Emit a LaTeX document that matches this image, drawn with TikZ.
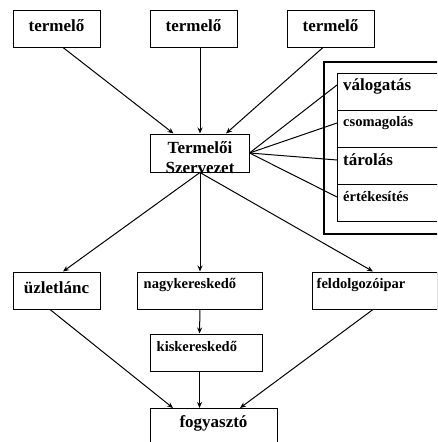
\documentclass[tikz,border=0pt]{standalone}
\usepackage{fontspec}
\setmainfont{Liberation Serif}
\usetikzlibrary{arrows.meta, positioning, calc}
\tikzset{
  box/.style={draw=black, line width=1pt, minimum width=#1,
    minimum height=37pt, inner sep=0pt, text depth=5pt},
  box/.default=87pt,
  big/.style={font=\fontsize{17}{19}\selectfont\bfseries, inner sep=0pt},
  small/.style={font=\fontsize{14.5}{17}\selectfont\bfseries, inner sep=0pt},
  arr/.style={-{Stealth[length=6pt,width=5pt]}, line width=1pt},
  link/.style={line width=1pt},
}

\begin{document}
\begin{tikzpicture}[x=1pt, y=1pt]
    \clip (0,0) rectangle (437,-442);

    % termelok
    \node[box, big] (t1) at (56.5,-28.5) {termelő};
    \node[box, big] (t2) at (193.5,-28.5) {termelő};
    \node[box, big] (t3) at (330.5,-28.5) {termelő};

    % szervezet
    \node[box=99pt, minimum height=38pt] (szerv) at (199.5,-153) {};
    \node[big, align=center, anchor=north] (szervtxt) at (200,-141)
      {Termelői\\[1pt]Szervezet};

    % feladatok
    \draw[line width=2pt] (324,-62) rectangle (450,-234);
    \node[box=120pt, anchor=north west] (r1) at (337,-73) {};
    \node[box=120pt, anchor=north west] (r2) at (337,-110) {};
    \node[box=120pt, anchor=north west] (r3) at (337,-147) {};
    \node[box=120pt, anchor=north west] (r4) at (337,-184) {};
    \node[big, anchor=west] (r1txt) at ($(r1.north west)+(6,-13)$) {válogatás};
    \node[small, anchor=west] (r2txt) at ($(r2.north west)+(6,-13)$) {csomagolás};
    \node[big, anchor=west] (r3txt) at ($(r3.north west)+(6,-13)$) {tárolás};
    \node[small, anchor=west] (r4txt) at ($(r4.north west)+(6,-13)$) {értékesítés};

    % kereskedelem
    \node[box, big] (uzlet) at (56.5,-290.5) {üzletlánc};
    \node[box=125pt] (nagy) at (199.5,-290.5) {};
    \node[small, anchor=west] (nagytxt) at ($(nagy.north west)+(7,-13)$) {nagykereskedő};
    \node[box=125pt] (feld) at (374.5,-290.5) {};
    \node[small, anchor=west] (feldtxt) at ($(feld.north west)+(5,-13)$) {feldolgozóipar};
    \node[box=112pt] (kisk) at (206,-352.5) {};
    \node[small, anchor=west] (kisktxt) at ($(kisk.north west)+(7,-13)$) {kiskereskedő};
    \node[box=127pt, minimum height=50pt, anchor=north] (fogy) at (213.5,-408) {};
    \node[big] (fogytxt) at (213.5,-423) {fogyasztó};

    \draw[arr] ($(t1.south)+(6.5,0)$) -- ($(szerv.north)+(-26,0)$);
    \draw[arr] ($(t2.south)+(6.5,0)$) -- ($(szerv.north)+(0.5,0)$);
    \draw[arr] ($(t3.south)+(-7.5,0)$) -- ($(szerv.north)+(26.5,0)$);

    \draw[link] (szerv.east) -- ($(r1.north west)+(0,-12)$);
    \draw[link] (szerv.east) -- ($(r2.north west)+(0,-13)$);
    \draw[link] (szerv.east) -- ($(r3.north west)+(0,-13)$);
    \draw[link] (szerv.east) -- ($(r4.north west)+(0,-13)$);

    \draw[arr] ($(szerv.south)+(0.5,0)$) -- ($(uzlet.north)+(6.5,0)$);
    \draw[arr] ($(szerv.south)+(0.5,0)$) -- ($(nagy.north)+(0.5,0)$);
    \draw[arr] ($(szerv.south)+(0.5,0)$) -- ($(feld.north)+(-1.5,0)$);
    \draw[arr] ($(nagy.south)+(0.5,0)$) -- (kisk.north -| nagy.south);

    \draw[arr] ($(uzlet.south)+(-6.5,0)$) -- ($(fogy.north)+(-40.5,0)$);
    \draw[arr] (kisk.south -| nagy.south) -- (fogy.north -| nagy.south);
    \draw[arr] ($(feld.south)+(-1.5,0)$) -- ($(fogy.north)+(26.5,0)$);
  \end{tikzpicture}
\end{document}
